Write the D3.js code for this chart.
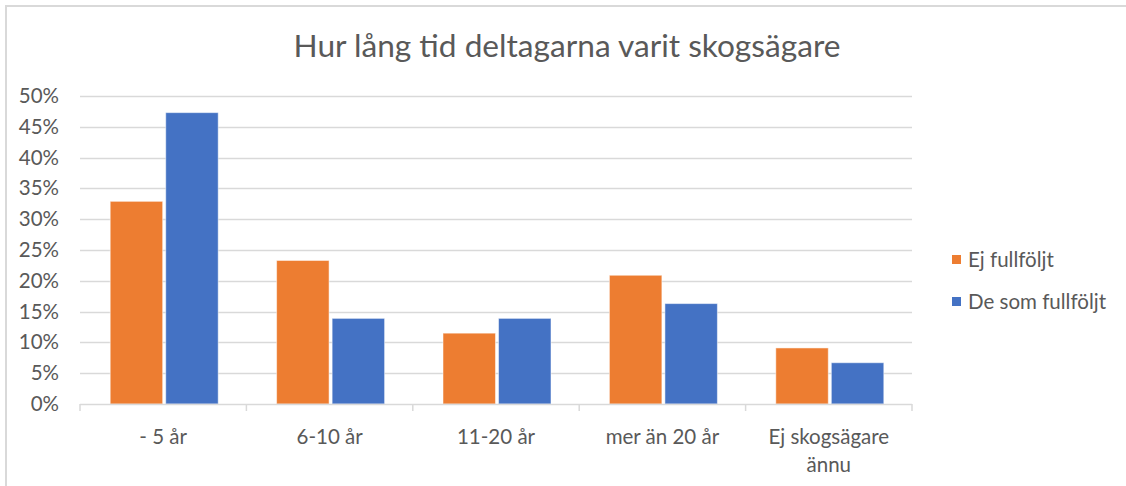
<!DOCTYPE html>
<html>
<head>
<meta charset="utf-8">
<script src="https://cdn.jsdelivr.net/npm/d3@7"></script>
<style>
  html, body { margin: 0; padding: 0; background: #fff; }
  svg { display: block; }
  text { font-family: Lato, "Open Sans", sans-serif; fill: #595959; }
</style>
</head>
<body>
<svg id="chart" width="1126" height="486"></svg>
<script>
const title = "Hur lång tid deltagarna varit skogsägare";
const categories = ["- 5 år", "6-10 år", "11-20 år", "mer än 20 år", "Ej skogsägare ännu"];
const seriesNames = ["Ej fullföljt", "De som fullföljt"];
const ejFullfoljt = [0.329, 0.233, 0.115, 0.209, 0.091];
const deSomFullfoljt = [0.473, 0.139, 0.139, 0.163, 0.067];
const seriesColors = ["#ED7D31", "#4472C4"];
const yTicks = [0, 0.05, 0.10, 0.15, 0.20, 0.25, 0.30, 0.35, 0.40, 0.45, 0.50];

const seriesValues = [ejFullfoljt, deSomFullfoljt];
const data = categories.map((c, i) => ({ cat: c, values: seriesNames.map((s, j) => ({ s, v: seriesValues[j][i], j })) }));

const svg = d3.select("#chart");
const W = 1126, H = 486;
const plot = { left: 80, right: 912, top: 96, bottom: 404 };
const grid = "#d9d9d9";

// outer chart border (top and left visible)
svg.append("rect")
  .attr("x", 6).attr("y", 6).attr("width", W + 20).attr("height", H + 20)
  .attr("fill", "none").attr("stroke", "#d9d9d9").attr("stroke-width", 2);

const x = d3.scaleBand().domain(categories).range([plot.left, plot.right]).paddingInner(0).paddingOuter(0);
const bw = x.bandwidth();
const x1 = d3.scaleBand().domain(seriesNames).range([bw / 2 - 53, bw / 2 + 55]).paddingInner(0.055);
const y = d3.scaleLinear().domain([0, 0.5]).range([plot.bottom, plot.top]);

// gridlines
svg.append("g").selectAll("line").data(yTicks.filter(t => t > 0)).join("line")
  .attr("x1", plot.left).attr("x2", plot.right)
  .attr("y1", d => Math.round(y(d)) + 0.5).attr("y2", d => Math.round(y(d)) + 0.5)
  .attr("stroke", grid).attr("stroke-width", 1.5);

// y axis labels
const yAxis = svg.append("g").attr("transform", `translate(${plot.left},0)`)
  .call(d3.axisLeft(y).tickValues(yTicks).tickFormat(d3.format(".0%")).tickSize(0).tickPadding(21));
yAxis.select(".domain").remove();
yAxis.selectAll("text").style("font-family", "Lato, 'Open Sans', sans-serif").style("font-size", "20.5px").attr("fill", "#595959");

// bars
const groups = svg.append("g").selectAll("g").data(data).join("g")
  .attr("transform", d => `translate(${x(d.cat)},0)`);
groups.selectAll("rect").data(d => d.values).join("rect")
  .attr("x", d => x1(d.s))
  .attr("width", x1.bandwidth())
  .attr("y", d => y(d.v))
  .attr("height", d => y(0) - y(d.v))
  .attr("fill", d => seriesColors[d.j])
  .attr("stroke", "#ffffff").attr("stroke-opacity", 0.5).attr("stroke-width", 1);

// x axis
const xAxis = svg.append("g").attr("transform", `translate(0,${plot.bottom})`)
  .call(d3.axisBottom(x).tickSize(0).tickPadding(25));
xAxis.select(".domain").attr("stroke", grid).attr("stroke-width", 1.5).attr("d", `M${plot.left},0.5H${plot.right}`);
xAxis.selectAll("text").style("font-family", "Lato, 'Open Sans', sans-serif").style("font-size", "20.5px").attr("fill", "#595959");
// boundary tick marks
const bounds = categories.map(c => x(c)).concat([plot.right]);
xAxis.append("g").selectAll("line").data(bounds).join("line")
  .attr("x1", d => d).attr("x2", d => d).attr("y1", 0).attr("y2", 7)
  .attr("stroke", grid).attr("stroke-width", 1.5);

// wrap long labels
function wrap(sel, width) {
  sel.each(function() {
    const t = d3.select(this);
    const words = t.text().split(/\s+/);
    const yAttr = t.attr("y"), dy = t.attr("dy");
    t.text(null);
    let line = [];
    let tspan = t.append("tspan").attr("x", 0).attr("y", yAttr).attr("dy", dy);
    let lineNo = 0;
    for (const w of words) {
      line.push(w);
      tspan.text(line.join(" "));
      if (tspan.node().getComputedTextLength() > width && line.length > 1) {
        line.pop();
        tspan.text(line.join(" "));
        line = [w];
        lineNo++;
        tspan = t.append("tspan").attr("x", 0).attr("y", yAttr).attr("dy", `calc(${dy})`).text(w);
        tspan.attr("dy", null).attr("y", +yAttr + lineNo * 28).attr("dy", dy);
      }
    }
  });
}
xAxis.selectAll(".tick text").call(wrap, bw - 10);

// title
const tt = svg.append("text").attr("x", 567).attr("y", 57).attr("text-anchor", "middle")
  .style("font-size", "32px").text(title);
const tw = tt.node().getComputedTextLength();
tt.style("font-size", (32 * 547 / tw).toFixed(2) + "px");

// legend
const legend = svg.append("g").selectAll("g").data(seriesNames).join("g")
  .attr("transform", (d, i) => `translate(952,${255 + i * 42})`);
legend.append("rect").attr("width", 9).attr("height", 9).attr("fill", (d, i) => seriesColors[i]);
legend.append("text").attr("x", 16).attr("y", 4.5).attr("dy", "0.35em")
  .style("font-size", "20.5px").text(d => d);
</script>
</body>
</html>
